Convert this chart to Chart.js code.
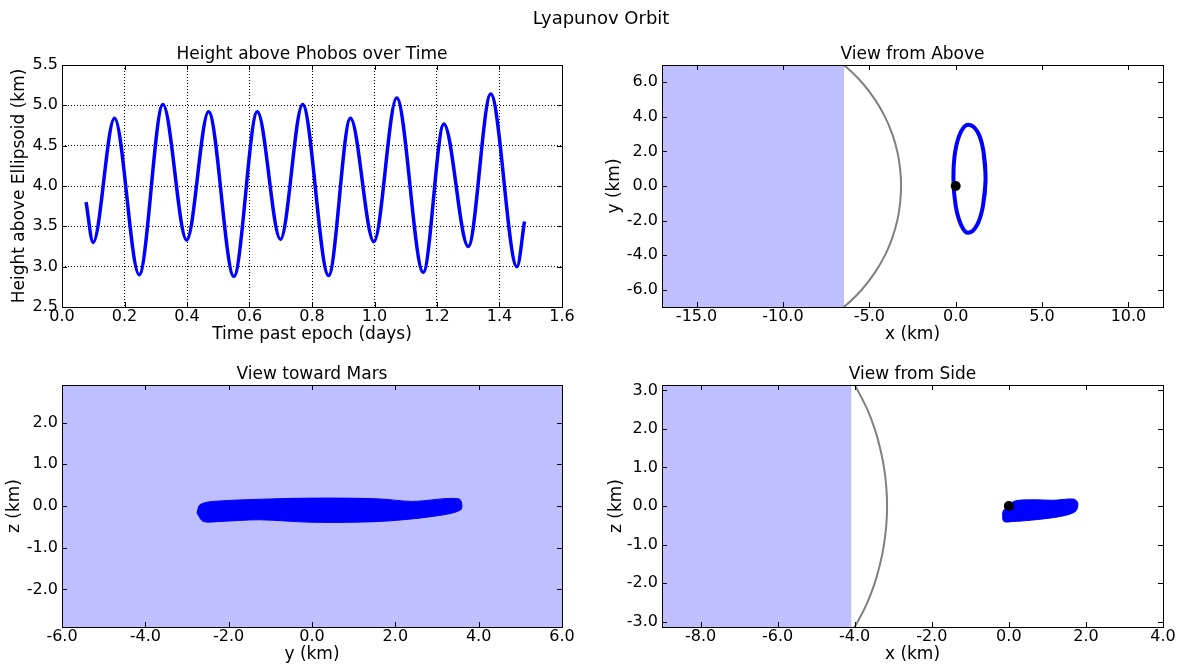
<!DOCTYPE html>
<html><head><meta charset="utf-8">
<script src="https://cdn.jsdelivr.net/npm/chart.js@4/dist/chart.umd.min.js"></script>
<style>
html,body{margin:0;padding:0;background:#fff;}
#wrap{position:relative;width:1180px;height:666px;overflow:hidden;font-family:'DejaVu Sans';}
canvas{position:absolute;}
#sup{position:absolute;left:11px;width:1180px;top:8px;text-align:center;font-size:18px;color:#000;line-height:20px;font-family:'DejaVu Sans';}
</style></head><body>
<div id="wrap">
<canvas id="c1" width="600" height="350" style="left:0;top:0"></canvas>
<canvas id="c2" width="580" height="350" style="left:600px;top:0"></canvas>
<canvas id="c3" width="600" height="346" style="left:0;top:320px"></canvas>
<canvas id="c4" width="580" height="346" style="left:600px;top:320px"></canvas>
<div id="sup">Lyapunov Orbit</div>
</div>
<script>
// ---- Height above Phobos over Time ----
const timeDays = [0.077, 0.0995, 0.168, 0.247, 0.323, 0.399, 0.469, 0.550, 0.625, 0.699, 0.770, 0.853, 0.923, 0.998, 1.071, 1.156, 1.222, 1.300, 1.372, 1.456, 1.480];
const heightKm = [3.80, 3.30, 4.84, 2.90, 5.01, 3.33, 4.92, 2.88, 4.92, 3.34, 5.01, 2.89, 4.84, 3.31, 5.09, 2.93, 4.77, 3.25, 5.14, 3.00, 3.56];
const tlXTicks = [0.0, 0.2, 0.4, 0.6, 0.8, 1.0, 1.2, 1.4, 1.6];
const tlYTicks = [2.5, 3.0, 3.5, 4.0, 4.5, 5.0, 5.5];

// ---- View from Above (x, y) ----
const aboveOrbitX = [1.58, 1.73, 1.61, 1.27, 0.72, 0.30, -0.03, -0.13, 0.00, 0.33, 0.72, 1.22, 1.58, 1.73, 1.61];
const aboveOrbitY = [-1.15, 0.42, 1.99, 3.13, 3.55, 3.13, 1.99, 0.42, -1.15, -2.29, -2.71, -2.29, -1.15, 0.42, 1.99];
const aboveSurfX = [-7.99, -6.48, -5.44, -4.67, -4.09, -3.67, -3.38, -3.22, -3.16, -3.22, -3.38, -3.67, -4.09, -4.67, -5.44, -6.48, -7.99];
const aboveSurfY = [8, 7, 6, 5, 4, 3, 2, 1, 0, -1, -2, -3, -4, -5, -6, -7, -8];
const aboveShadeX = [-17, -6.45];
const aboveShadeY = [7, 7];
const trXTicks = [-15, -10, -5, 0, 5, 10];
const trYTicks = [-6, -4, -2, 0, 2, 4, 6];

// ---- View toward Mars (y, z) ----
const marsBandY = [-2.76, -2.69, -2.37, -0.78, 0.42, 1.61, 2.41, 3.53, 3.57, 2.89, 1.61, 0.01, -1.26, -2.21, -2.61, -2.76];
const marsBandZ = [-0.17, 0.03, 0.11, 0.175, 0.19, 0.17, 0.11, 0.17, -0.09, -0.25, -0.37, -0.39, -0.33, -0.37, -0.37, -0.17];
const marsShadeY = [-6, 6];
const marsShadeZ = [2.9, 2.9];
const blXTicks = [-6, -4, -2, 0, 2, 4, 6];
const blYTicks = [-2, -1, 0, 1, 2];

// ---- View from Side (x, z) ----
const sideBandX = [-0.13, 0.13, 0.56, 1.17, 1.68, 1.79, 1.73, 1.34, 0.56, 0.13, -0.13, -0.16, -0.13];
const sideBandZ = [-0.10, 0.12, 0.16, 0.15, 0.18, 0.08, -0.14, -0.27, -0.37, -0.40, -0.40, -0.18, -0.10];
const sideSurfX = [-4.22, -3.92, -3.67, -3.48, -3.34, -3.24, -3.18, -3.16, -3.18, -3.24, -3.34, -3.48, -3.67, -3.92, -4.22];
const sideSurfZ = [3.5, 3.0, 2.5, 2.0, 1.5, 1.0, 0.5, 0, -0.5, -1.0, -1.5, -2.0, -2.5, -3.0, -3.5];
const sideShadeX = [-9, -4.08];
const sideShadeZ = [3.14, 3.14];
const brXTicks = [-8, -6, -4, -2, 0, 2, 4];
const brYTicks = [-3, -2, -1, 0, 1, 2, 3];

const originX = [0];
const originY = [0];

const BLUE = '#0000ff';
const SHADE = '#bfbfff';
const GRAY = '#808080';

Chart.defaults.font.family = "'DejaVu Sans'";
Chart.defaults.color = '#000';

const pts = (xs, ys) => xs.map((x, i) => ({x: x, y: ys[i]}));

const frameTicks = {
  id: 'frameTicks',
  afterDraw(chart) {
    const {ctx, chartArea: a, scales} = chart;
    ctx.save();
    ctx.strokeStyle = '#000';
    ctx.lineWidth = 1;
    ctx.beginPath();
    scales.x.ticks.forEach(t => {
      const px = Math.round(scales.x.getPixelForValue(t.value)) + 0.5;
      ctx.moveTo(px, a.bottom); ctx.lineTo(px, a.bottom - 5);
      ctx.moveTo(px, a.top); ctx.lineTo(px, a.top + 5);
    });
    scales.y.ticks.forEach(t => {
      const py = Math.round(scales.y.getPixelForValue(t.value)) + 0.5;
      ctx.moveTo(a.left, py); ctx.lineTo(a.left + 5, py);
      ctx.moveTo(a.right, py); ctx.lineTo(a.right - 5, py);
    });
    ctx.stroke();
    ctx.strokeRect(Math.round(a.left) + 0.5, Math.round(a.top) + 0.5, Math.round(a.right - a.left), Math.round(a.bottom - a.top));
    ctx.restore();
  }
};

function axis(min, max, ticks, title, size, isX, grid) {
  return {
    type: 'linear', min: min, max: max,
    afterBuildTicks: s => { s.ticks = ticks.map(v => ({value: v})); },
    afterFit: s => { if (isX) s.height = size; else s.width = size; },
    ticks: { callback: v => Number(v).toFixed(1), font: {size: 16}, color: '#000', padding: isX ? 0 : 4, autoSkip: false, maxRotation: 0, minRotation: 0 },
    grid: { display: !!grid, drawTicks: false, color: '#000', lineWidth: 1 },
    border: { display: false, dash: [1, 2] },
    title: { display: true, text: title, font: {size: 17}, color: '#000', padding: {top: 0, bottom: 0} }
  };
}

function makeChart(id, title, datasets, xAxis, yAxis, pad) {
  return new Chart(document.getElementById(id), {
    type: 'scatter',
    data: { datasets: datasets },
    options: {
      responsive: false, animation: false, devicePixelRatio: 1,
      layout: { padding: pad },
      plugins: {
        legend: { display: false }, tooltip: { enabled: false },
        title: { display: true, text: title, fullSize: false, font: {size: 17, weight: 'normal'}, color: '#000', padding: {top: 0, bottom: 0} }
      },
      scales: { x: xAxis, y: yAxis }
    },
    plugins: [frameTicks]
  });
}

const dot = { data: pts(originX, originY), pointRadius: 5, pointBackgroundColor: '#000', pointBorderWidth: 0, showLine: false };

// Top-left
makeChart('c1', 'Height above Phobos over Time', [
  { data: pts(timeDays, heightKm), showLine: true, borderColor: BLUE, borderWidth: 3.5, pointRadius: 0, cubicInterpolationMode: 'monotone', fill: false }
], axis(0, 1.6, tlXTicks, 'Time past epoch (days)', 37.3, true, true),
   axis(2.5, 5.5, tlYTicks, 'Height above Ellipsoid (km)', 53.1, false, true),
   {left: 8.9, right: 38, top: 44.6, bottom: 5.7});

// Top-right
makeChart('c2', 'View from Above', [
  Object.assign({}, dot),
  { data: pts(aboveOrbitX, aboveOrbitY), showLine: true, borderColor: BLUE, borderWidth: 4, pointRadius: 0, tension: 0.4, fill: false },
  { data: pts(aboveSurfX, aboveSurfY), showLine: true, borderColor: GRAY, borderWidth: 2, pointRadius: 0, tension: 0.4, fill: false },
  { data: pts(aboveShadeX, aboveShadeY), showLine: true, borderWidth: 0, pointRadius: 0, backgroundColor: SHADE, fill: 'start' }
], axis(-17, 12, trXTicks, 'x (km)', 37.3, true, false),
   axis(-7, 7, trYTicks, 'y (km)', 57.2, false, false),
   {left: 4.8, right: 17, top: 44.6, bottom: 5.7});

// Bottom-left
makeChart('c3', 'View toward Mars', [
  { data: pts(marsBandY, marsBandZ), showLine: true, borderColor: BLUE, borderWidth: 1, pointRadius: 0, tension: 0.3, backgroundColor: BLUE, fill: 'shape' },
  { data: pts(marsShadeY, marsShadeZ), showLine: true, borderWidth: 0, pointRadius: 0, backgroundColor: SHADE, fill: 'start' }
], axis(-6, 6, blXTicks, 'y (km)', 37.3, true, false),
   axis(-2.9, 2.9, blYTicks, 'z (km)', 57.2, false, false),
   {left: 4.8, right: 38, top: 44.6, bottom: 1.7});

// Bottom-right
makeChart('c4', 'View from Side', [
  Object.assign({}, dot),
  { data: pts(sideBandX, sideBandZ), showLine: true, borderColor: BLUE, borderWidth: 1, pointRadius: 0, tension: 0.3, backgroundColor: BLUE, fill: 'shape' },
  { data: pts(sideSurfX, sideSurfZ), showLine: true, borderColor: GRAY, borderWidth: 2, pointRadius: 0, tension: 0.4, fill: false },
  { data: pts(sideShadeX, sideShadeZ), showLine: true, borderWidth: 0, pointRadius: 0, backgroundColor: SHADE, fill: 'start' }
], axis(-9, 4, brXTicks, 'x (km)', 37.3, true, false),
   axis(-3.14, 3.14, brYTicks, 'z (km)', 55.7, false, false),
   {left: 6.3, right: 17, top: 44.6, bottom: 1.7});
</script>
</body></html>
